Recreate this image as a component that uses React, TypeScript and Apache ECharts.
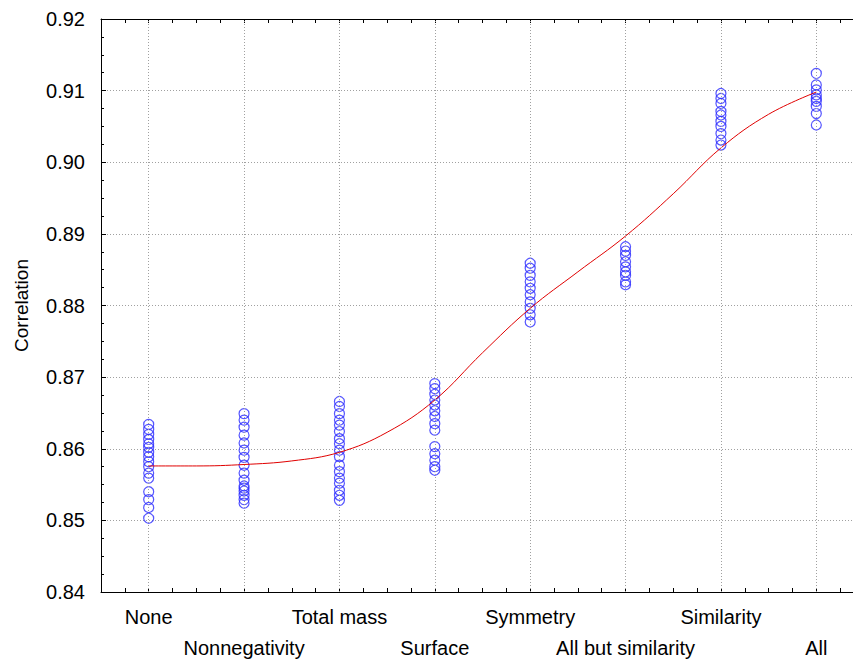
import React, { useEffect, useRef } from "react";
import * as echarts from "echarts";

const categories = [
  "None",
  "Nonnegativity",
  "Total mass",
  "Surface",
  "Symmetry",
  "All but similarity",
  "Similarity",
  "All",
];

const noneVals = [0.8634, 0.8627, 0.862, 0.8613, 0.8607, 0.8602, 0.8595, 0.8589, 0.8582, 0.8575, 0.8566, 0.8559, 0.854, 0.8529, 0.8518, 0.8503];
const nonnegVals = [0.8649, 0.864, 0.863, 0.8619, 0.8608, 0.8598, 0.8588, 0.8577, 0.8566, 0.8556, 0.8548, 0.8545, 0.8541, 0.8535, 0.8529, 0.8524];
const totalMassVals = [0.8666, 0.8659, 0.8649, 0.864, 0.8633, 0.8624, 0.8614, 0.8607, 0.8598, 0.8589, 0.8577, 0.8568, 0.8559, 0.8552, 0.8542, 0.8535, 0.8528];
const surfaceVals = [0.8691, 0.8684, 0.8676, 0.8668, 0.8661, 0.8653, 0.8645, 0.8635, 0.8626, 0.8603, 0.8593, 0.8584, 0.8575, 0.857];
const symmetryVals = [0.8859, 0.8852, 0.8842, 0.8833, 0.8824, 0.8815, 0.8805, 0.8796, 0.8787, 0.8777];
const allButSimVals = [0.8882, 0.8876, 0.887, 0.8861, 0.8854, 0.8847, 0.8842, 0.8833, 0.8829];
const similarityVals = [0.9096, 0.9089, 0.9082, 0.9071, 0.9066, 0.9057, 0.905, 0.904, 0.9031, 0.9024];
const allVals = [0.9124, 0.9108, 0.9101, 0.9094, 0.9089, 0.9085, 0.9078, 0.9068, 0.9052];

const groups = [noneVals, nonnegVals, totalMassVals, surfaceVals, symmetryVals, allButSimVals, similarityVals, allVals];

// fitted curve (x in category units)
const curveX = [0, 0.5, 1, 1.5, 2, 2.5, 3, 3.5, 4, 4.5, 5, 5.5, 6, 6.5, 7];
const curveY = [0.8576, 0.8576, 0.8578, 0.8583, 0.8595, 0.8623, 0.8668, 0.8734, 0.8796, 0.8847, 0.8897, 0.8956, 0.902, 0.9067, 0.9098];

const yTicks = [0.84, 0.85, 0.86, 0.87, 0.88, 0.89, 0.9, 0.91, 0.92];

const FONT = "'Liberation Sans', Arial, sans-serif";

export default function App() {
  const ref = useRef<HTMLDivElement>(null);
  useEffect(() => {
    if (!ref.current) return;
    const chart = echarts.init(ref.current, undefined, { renderer: "svg" });
    const scatterData: number[][] = [];
    groups.forEach((g, i) => g.forEach((v) => scatterData.push([i, v])));
    const curveData = curveX.map((x, i) => [x, curveY[i]]);
    const common = {
      type: "value",
      min: -0.5,
      max: 7.5,
      interval: 0.25,
      axisLine: { show: true, onZero: false, lineStyle: { color: "#000", width: 1 } },
      axisTick: { show: true, inside: true, length: 4, lineStyle: { color: "#000" } },
      splitLine: { show: false },
    };
    chart.setOption({
      animation: false,
      backgroundColor: "#fff",
      grid: { left: 101, top: 19, right: 16, bottom: 68, containLabel: false, outerBoundsMode: "none" },
      graphic: [
        {
          type: "line",
          shape: { x1: 101.5, y1: 19, x2: 101.5, y2: 592 },
          style: { stroke: "#000", lineWidth: 1 },
          z: 10,
          silent: true,
        },
      ],
      xAxis: [
        {
          ...common,
          position: "bottom",
          axisLabel: {
            show: true,
            interval: 0,
            margin: 9,
            color: "#000",
            fontSize: 20,
            fontFamily: FONT,
            lineHeight: 31,
            showMinLabel: true,
            showMaxLabel: true,
            formatter: (v: number) => {
              const r = Math.round(v);
              if (Math.abs(v - r) > 1e-6 || r < 0 || r >= categories.length) return "";
              return r % 2 === 1 ? "\n" + categories[r] : categories[r];
            },
          },
        },
        {
          ...common,
          position: "top",
          axisLabel: { show: false },
        },
      ],
      yAxis: {
        type: "value",
        min: 0.84,
        max: 0.92,
        interval: 0.01,
        name: "Correlation",
        nameLocation: "middle",
        nameGap: 70,
        nameTextStyle: { color: "#000", fontSize: 19, fontFamily: FONT },
        axisLine: { show: true, onZero: false, lineStyle: { color: "#000", width: 1, type: "solid" } },
        axisTick: { show: true, inside: true, length: 5, lineStyle: { color: "#000" } },
        minorTick: { show: true, splitNumber: 4, length: 3, lineStyle: { color: "#000" } },
        axisLabel: {
          color: "#000",
          fontSize: 20,
          fontFamily: FONT,
          margin: 16,
          formatter: (v: number) => {
            const t = yTicks.find((y) => Math.abs(y - v) < 1e-6);
            return (t !== undefined ? t : v).toFixed(2);
          },
        },
        splitLine: { show: true, lineStyle: { color: "#a0a0a0", type: [1, 2], width: 1 } },
      },
      series: [
        {
          type: "scatter",
          xAxisIndex: 0,
          data: scatterData,
          symbol: "circle",
          symbolSize: 10,
          itemStyle: { color: "rgba(0,0,0,0)", borderColor: "#2a2aff", borderWidth: 1.2 },
          markLine: {
            silent: true,
            symbol: "none",
            label: { show: false },
            lineStyle: { color: "#a0a0a0", type: [1, 2], width: 1 },
            data: categories.map((_, i) => ({ xAxis: i })),
          },
          z: 3,
        },
        {
          type: "line",
          xAxisIndex: 0,
          data: curveData,
          smooth: 0.4,
          showSymbol: false,
          symbol: "none",
          lineStyle: { color: "#e00000", width: 1 },
          z: 4,
        },
      ],
    });
    return () => chart.dispose();
  }, []);
  return (
    <div style={{ position: "fixed", left: 0, top: 0, width: 853, height: 660, overflow: "hidden" }}>
      <div ref={ref} style={{ width: 880, height: 660 }} />
    </div>
  );
}
